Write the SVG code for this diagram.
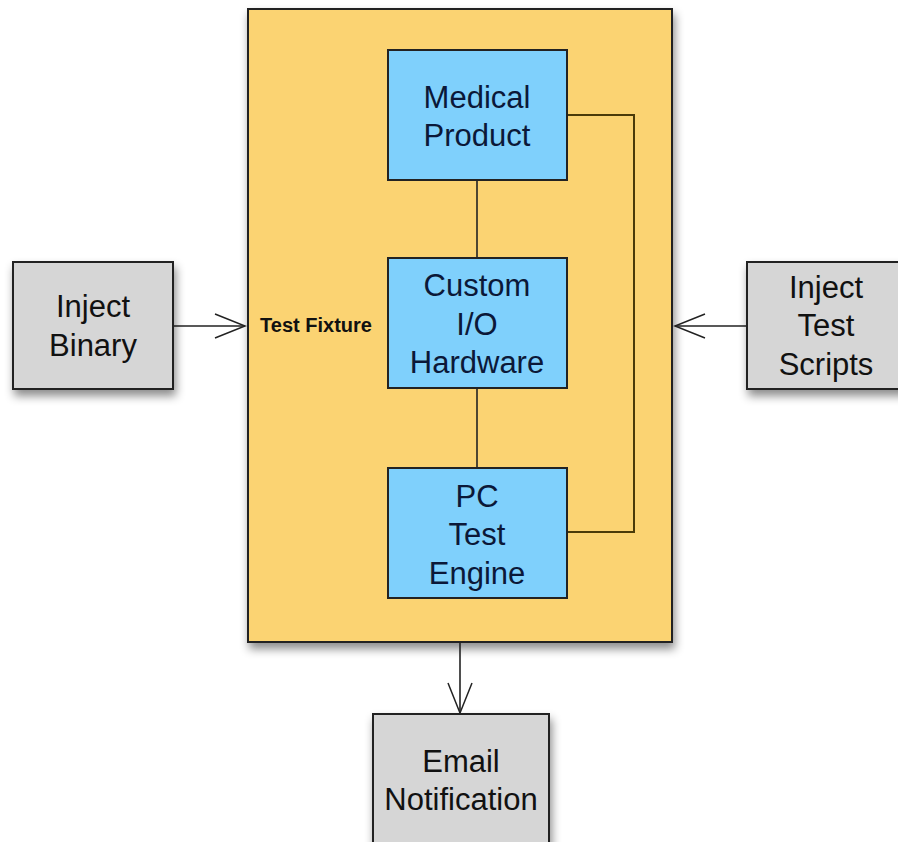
<svg xmlns="http://www.w3.org/2000/svg" width="898" height="842" viewBox="0 0 898 842">
<defs>
<filter id="sh" x="-20%" y="-20%" width="140%" height="140%">
<feDropShadow dx="2" dy="6" stdDeviation="5" flood-color="#000" flood-opacity="0.45"/>
</filter>
<marker id="arr" viewBox="0 0 34 28" refX="32" refY="14" markerWidth="34" markerHeight="28" markerUnits="userSpaceOnUse" orient="auto">
<path d="M2,2 L32,14 L2,26" fill="none" stroke="#222" stroke-width="1.5"/>
</marker>
<style>
.box{stroke:#222;stroke-width:2}
.fx{fill:#FBD372}
.bl{fill:#7FD0FC}
.gr{fill:#D6D6D6}
text{font-family:"Liberation Sans",Arial,sans-serif;font-size:31px;text-anchor:middle}
.bt{fill:#0B1838}
.gt{fill:#111}
.ln{fill:none;stroke:#222;stroke-width:1.6}
.br{fill:none;stroke:#4a3a08;stroke-width:2}
</style>
</defs>
<rect width="898" height="842" fill="#fff"/>
<g id="test-fixture">
<rect class="box fx" x="248" y="9" width="424" height="633" filter="url(#sh)"/>
<text x="316" y="332" style="font-size:20px;font-weight:bold" fill="#111">Test Fixture</text>
</g>
<g id="connectors">
<line class="ln" x1="477" y1="180" x2="477" y2="258"/>
<line class="ln" x1="477" y1="388" x2="477" y2="468"/>
<polyline class="br" points="567,115 634,115 634,532 567,532"/>
<line class="ln" x1="173" y1="326" x2="245" y2="326" marker-end="url(#arr)"/>
<line class="ln" x1="747" y1="326" x2="675" y2="326" marker-end="url(#arr)"/>
<line class="ln" x1="460" y1="642" x2="460" y2="713" marker-end="url(#arr)"/>
</g>
<g id="medical-product">
<rect class="box bl" x="388" y="50" width="179" height="130"/>
<text class="bt" x="477" y="108">Medical</text>
<text class="bt" x="477" y="146">Product</text>
</g>
<g id="custom-io-hardware">
<rect class="box bl" x="388" y="258" width="179" height="130"/>
<text class="bt" x="477" y="296">Custom</text>
<text class="bt" x="477" y="335">I/O</text>
<text class="bt" x="477" y="373">Hardware</text>
</g>
<g id="pc-test-engine">
<rect class="box bl" x="388" y="468" width="179" height="130"/>
<text class="bt" x="477" y="507">PC</text>
<text class="bt" x="477" y="545">Test</text>
<text class="bt" x="477" y="584">Engine</text>
</g>
<g id="inject-binary">
<rect class="box gr" x="13" y="262" width="160" height="127" filter="url(#sh)"/>
<text class="gt" x="93" y="317">Inject</text>
<text class="gt" x="93" y="356">Binary</text>
</g>
<g id="inject-test-scripts">
<rect class="box gr" x="747" y="262" width="160" height="127" filter="url(#sh)"/>
<text class="gt" x="826" y="298">Inject</text>
<text class="gt" x="826" y="336">Test</text>
<text class="gt" x="826" y="375">Scripts</text>
</g>
<g id="email-notification">
<rect class="box gr" x="373" y="714" width="176" height="140" filter="url(#sh)"/>
<text class="gt" x="461" y="772">Email</text>
<text class="gt" x="461" y="810">Notification</text>
</g>
</svg>
